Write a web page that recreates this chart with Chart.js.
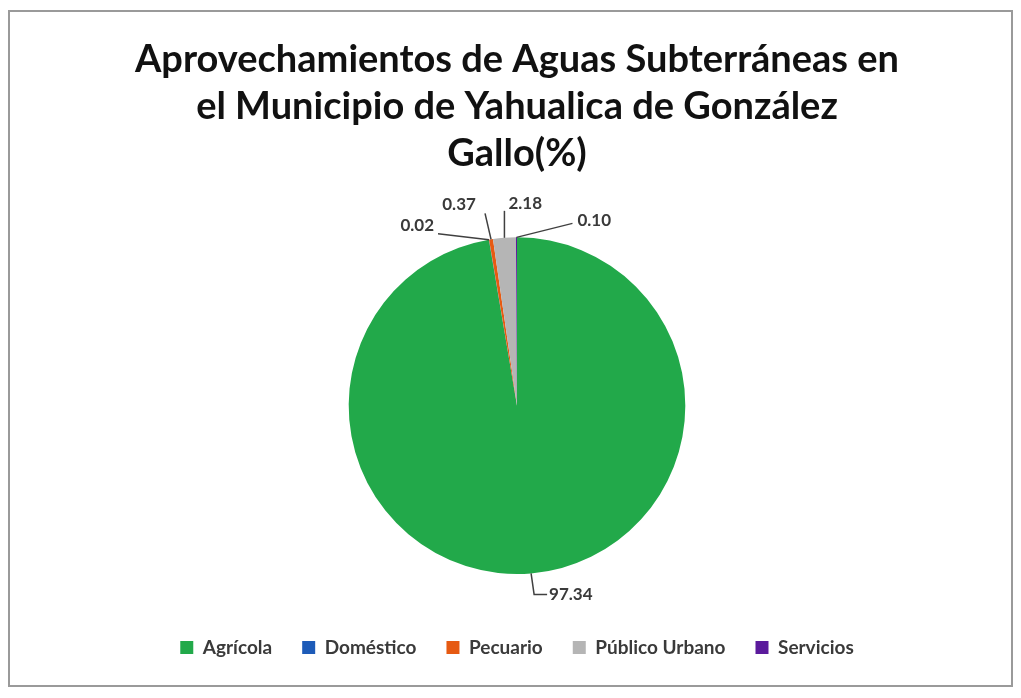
<!DOCTYPE html>
<html>
<head>
<meta charset="utf-8">
<script src="https://cdn.jsdelivr.net/npm/chart.js@4"></script>
<style>
  html, body { margin: 0; padding: 0; background: #fff; }
  #wrap { position: absolute; left: 0; top: 0; width: 1021px; height: 698px; }
</style>
</head>
<body>
<div id="wrap"><canvas id="pieChart"></canvas></div>
<script>
// data
const categories = ['Agrícola', 'Doméstico', 'Pecuario', 'Público Urbano', 'Servicios'];
const values = [97.34, 0.02, 0.37, 2.18, 0.10];
const labelsText = ['97.34', '0.02', '0.37', '2.18', '0.10'];
const colors = ['#22a94a', '#1d5bb8', '#e65a12', '#b5b5b5', '#5b1a9c'];

// leader line layout per slice, offsets from the arc edge midpoint
const leaderOffsets = [
  { elbow: [3, 21], tail: 13, text: [18, 21], align: 'left' },
  { elbow: [-51, -6], tail: 0, text: [-55, -14], align: 'right' },
  { elbow: [-6, -26], tail: 0, text: [-32, -35], align: 'center' },
  { elbow: [0, -27], tail: 0, text: [4, -34], align: 'left' },
  { elbow: [56, -14], tail: 0, text: [61, -17], align: 'left' }
];

// frame around the chart
const framePlugin = {
  id: 'frame',
  beforeDraw(chart) {
    const ctx = chart.ctx;
    ctx.save();
    ctx.fillStyle = '#ffffff';
    ctx.fillRect(0, 0, chart.width, chart.height);
    ctx.strokeStyle = '#9a9a9a';
    ctx.lineWidth = 2;
    ctx.strokeRect(9, 11, 1003, 675);
    ctx.restore();
  }
};

// data labels with leader lines
const leaderPlugin = {
  id: 'leaders',
  afterDatasetsDraw(chart) {
    const ctx = chart.ctx;
    const meta = chart.getDatasetMeta(0);
    ctx.save();
    ctx.strokeStyle = '#404040';
    ctx.lineWidth = 1.5;
    ctx.fillStyle = '#3a3a3a';
    ctx.font = 'bold 17px Lato';
    ctx.textBaseline = 'middle';
    meta.data.forEach((arc, i) => {
      const p = arc.getProps(['x', 'y', 'startAngle', 'endAngle', 'outerRadius'], true);
      const mid = (p.startAngle + p.endAngle) / 2;
      const ax = p.x + Math.cos(mid) * p.outerRadius;
      const ay = p.y + Math.sin(mid) * p.outerRadius;
      const o = leaderOffsets[i];
      const ex = ax + o.elbow[0], ey = ay + o.elbow[1];
      ctx.beginPath();
      ctx.moveTo(ax, ay);
      ctx.lineTo(ex, ey);
      if (o.tail) ctx.lineTo(ex + o.tail, ey);
      ctx.stroke();
      ctx.textAlign = o.align;
      ctx.fillText(labelsText[i], ax + o.text[0], ay + o.text[1]);
    });
    ctx.restore();
  }
};

new Chart(document.getElementById('pieChart'), {
  type: 'pie',
  data: {
    labels: categories,
    datasets: [{
      data: values,
      backgroundColor: colors,
      borderWidth: 0
    }]
  },
  options: {
    responsive: true,
    maintainAspectRatio: false,
    animation: false,
    layout: { padding: { top: 36, bottom: 31, left: 13, right: 0 } },
    plugins: {
      tooltip: { enabled: false },
      title: {
        display: true,
        text: ['Aprovechamientos de Aguas Subterráneas en', 'el Municipio de Yahualica de González', 'Gallo(%)'],
        color: '#111111',
        font: { family: 'Lato', size: 38, weight: 'bold', lineHeight: 1.24 },
        padding: { top: 0, bottom: 60 }
      },
      legend: {
        position: 'bottom',
        title: { display: true, text: ' ', font: { size: 10 }, padding: { top: 0, bottom: 22 } },
        labels: {
          color: '#3a3a3a',
          font: { family: 'Lato', size: 19, weight: 'bold' },
          boxWidth: 13,
          boxHeight: 13,
          padding: 30
        }
      }
    }
  },
  plugins: [framePlugin, leaderPlugin]
});
</script>
</body>
</html>
